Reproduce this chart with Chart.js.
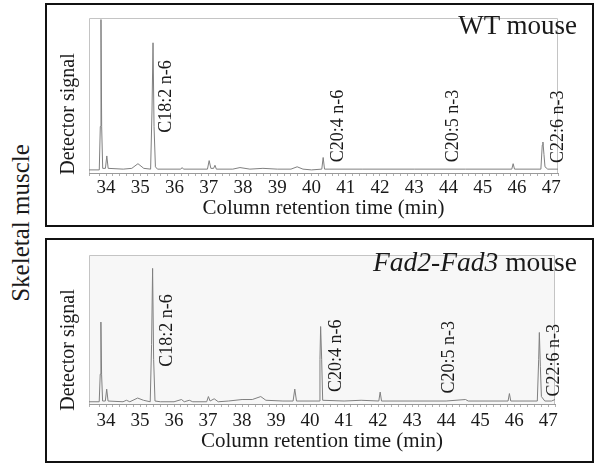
<!DOCTYPE html>
<html>
<head>
<meta charset="utf-8">
<script src="https://cdn.jsdelivr.net/npm/chart.js@4.4.0/dist/chart.umd.min.js"></script>
<style>
  body { margin: 0; width: 595px; height: 464px; background: #fff; position: relative; overflow: hidden; font-family: 'Liberation Serif', serif; color: #1a1a1a; }
  .box { position: absolute; left: 45px; width: 549px; border: 2px solid #111; box-sizing: border-box; }
  canvas { position: absolute; }
  .rot { position: absolute; white-space: nowrap; line-height: 1; transform: translate(-50%, -50%) rotate(-90deg); }
  .tag { position: absolute; white-space: nowrap; line-height: 1; right: 18px; }
</style>
</head>
<body>
<div class="box" style="top:3px;height:224px"></div>
<div class="box" style="top:238px;height:225px"></div>
<canvas id="wt" width="545" height="219" style="left:47px;top:5px"></canvas>
<canvas id="fad" width="545" height="221" style="left:47px;top:240px"></canvas>
<div class="rot" style="left:20px;top:223px;font-size:25px">Skeletal muscle</div>
<div class="rot" style="left:67px;top:114px;font-size:20px">Detector signal</div>
<div class="rot" style="left:67px;top:350px;font-size:20px">Detector signal</div>
<div class="tag" style="top:12px;font-size:27px">WT mouse</div>
<div class="tag" style="top:248px;font-size:27.5px"><i>Fad2-Fad3</i> mouse</div>
<script>
// retention time axis labels (min)
const tickLabels = [34, 35, 36, 37, 38, 39, 40, 41, 42, 43, 44, 45, 46, 47];

// WT mouse trace
const wtTime = [33.5, 33.8, 33.83, 33.85, 33.87, 33.9, 33.98, 34.02, 34.06, 34.5, 34.75, 34.93, 35.1, 35.3, 35.34, 35.37, 35.4, 35.44, 35.5,
  36.18, 36.22, 36.26, 36.96, 37.01, 37.06, 37.14, 37.18, 37.22, 37.7, 37.91, 38.2, 38.58, 39.0, 39.4, 39.58, 39.75, 40.0,
  40.3, 40.34, 40.38, 41.5, 43.0, 44.5, 45.85, 45.89, 45.93, 46.7, 46.74, 46.76, 46.79, 46.82, 46.9, 47.2];
const wtSignal = [0.02, 0.02, 0.3, 0.99, 0.3, 0.03, 0.03, 0.11, 0.03, 0.025, 0.03, 0.06, 0.03, 0.025, 0.4, 0.84, 0.3, 0.04, 0.025,
  0.025, 0.035, 0.025, 0.025, 0.08, 0.03, 0.03, 0.05, 0.025, 0.025, 0.035, 0.025, 0.03, 0.025, 0.025, 0.04, 0.025, 0.02,
  0.025, 0.1, 0.025, 0.025, 0.025, 0.025, 0.025, 0.06, 0.025, 0.025, 0.18, 0.2, 0.12, 0.04, 0.025, 0.025];

// Fad2-Fad3 mouse trace
const fadTime = [33.5, 33.8, 33.83, 33.85, 33.87, 33.9, 33.98, 34.02, 34.06, 34.5, 34.6, 34.7, 34.93, 35.1, 35.3, 35.34, 35.37, 35.4, 35.44, 35.6,
  36.0, 36.22, 36.3, 36.45, 36.55, 36.96, 37.01, 37.06, 37.18, 37.3, 37.6, 38.0, 38.3, 38.55, 38.7, 39.2, 39.5, 39.55, 39.6,
  40.27, 40.29, 40.31, 40.34, 40.37, 41.0, 41.5, 42.02, 42.06, 42.1, 43.0, 44.0, 44.57, 44.65, 45.82, 45.86, 45.9,
  46.68, 46.72, 46.74, 46.77, 46.8, 46.9, 47.1, 47.2];
const fadSignal = [0.015, 0.015, 0.2, 0.55, 0.2, 0.02, 0.02, 0.1, 0.02, 0.015, 0.025, 0.015, 0.04, 0.025, 0.015, 0.4, 0.91, 0.3, 0.02, 0.015,
  0.015, 0.03, 0.015, 0.025, 0.015, 0.015, 0.05, 0.02, 0.035, 0.015, 0.02, 0.03, 0.03, 0.05, 0.025, 0.02, 0.02, 0.1, 0.02,
  0.02, 0.3, 0.52, 0.3, 0.025, 0.02, 0.025, 0.02, 0.08, 0.02, 0.02, 0.02, 0.03, 0.02, 0.02, 0.07, 0.02,
  0.02, 0.3, 0.48, 0.25, 0.05, 0.02, 0.02, 0.03];

// peak annotations
const peakNames = ['C18:2 n-6', 'C20:4 n-6', 'C20:5 n-3', 'C22:6 n-3'];
const wtLabelTimes = [35.76, 40.77, 44.13, 47.2];
const wtLabelLevels = [0.26, 0.07, 0.07, 0.065];
const fadLabelTimes = [35.8, 40.77, 44.08, 47.17];
const fadLabelLevels = [0.25, 0.08, 0.07, 0.05];

const peakPlugin = {
  id: 'peaks',
  beforeDatasetsDraw(chart, args, opts) {
    const { ctx, chartArea: a } = chart;
    ctx.save();
    ctx.fillStyle = opts.bg;
    ctx.fillRect(a.left, a.top, a.right - a.left, a.bottom - a.top);
    ctx.strokeStyle = '#c4c4c4';
    ctx.lineWidth = 1;
    ctx.beginPath();
    ctx.moveTo(a.left + 0.5, a.bottom);
    ctx.lineTo(a.left + 0.5, a.top + 0.5);
    ctx.lineTo(a.right - 0.5, a.top + 0.5);
    ctx.lineTo(a.right - 0.5, a.bottom);
    ctx.stroke();
    ctx.restore();
  },
  afterDraw(chart, args, opts) {
    const { ctx, scales: { x, y } } = chart;
    ctx.save();
    ctx.font = '18px "Liberation Serif"';
    ctx.fillStyle = '#1a1a1a';
    ctx.textAlign = 'left';
    ctx.textBaseline = 'middle';
    opts.names.forEach((name, i) => {
      ctx.save();
      ctx.translate(x.getPixelForValue(opts.times[i]), y.getPixelForValue(opts.levels[i]));
      ctx.rotate(-Math.PI / 2);
      ctx.fillText(name, 0, 0);
      ctx.restore();
    });
    ctx.restore();
  }
};

function makeChart(id, times, signals, labelTimes, labelLevels, look) {
  const ctx = document.getElementById(id).getContext('2d');
  return new Chart(ctx, {
    type: 'scatter',
    data: {
      datasets: [{
        data: times.map((t, i) => ({ x: t, y: signals[i] })),
        showLine: true,
        borderColor: '#808080',
        borderWidth: 1,
        pointRadius: 0,
        tension: 0
      }]
    },
    options: {
      responsive: false,
      animation: false,
      layout: { padding: { left: 0, top: look.top, right: look.right, bottom: 0 } },
      plugins: {
        legend: { display: false },
        tooltip: { enabled: false },
        peaks: { names: peakNames, times: labelTimes, levels: labelLevels, bg: look.bg }
      },
      scales: {
        x: {
          type: 'linear',
          min: 33.5,
          max: 47.2,
          afterFit: axis => { axis.height = look.xHeight; },
          border: { display: true, color: '#9a9a9a', width: 1 },
          grid: { drawOnChartArea: false, tickLength: 3, color: '#b0b0b0' },
          ticks: {
            stepSize: 0.2,
            autoSkip: false,
            maxRotation: 0,
            padding: look.tickPad,
            color: '#1a1a1a',
            font: { family: 'Liberation Serif', size: 19 },
            callback: v => {
              const r = Math.round(v);
              return Math.abs(v - r) < 1e-6 && tickLabels.includes(r) ? String(r) : '';
            }
          },
          title: {
            display: true,
            text: 'Column retention time (min)',
            color: '#1a1a1a',
            font: { family: 'Liberation Serif', size: 21 },
            padding: { top: 0, bottom: look.titlePad }
          }
        },
        y: {
          min: 0,
          max: 1,
          afterFit: axis => { axis.width = 42; },
          border: { display: false },
          grid: { display: false },
          ticks: { display: false }
        }
      }
    },
    plugins: [peakPlugin]
  });
}

makeChart('wt', wtTime, wtSignal, wtLabelTimes, wtLabelLevels,
  { top: 13, right: 34, xHeight: 51, tickPad: 1, titlePad: 3, bg: '#ffffff' });
makeChart('fad', fadTime, fadSignal, fadLabelTimes, fadLabelLevels,
  { top: 15, right: 37, xHeight: 57, tickPad: 3, titlePad: 7, bg: '#f7f7f7' });
</script>
</body>
</html>
